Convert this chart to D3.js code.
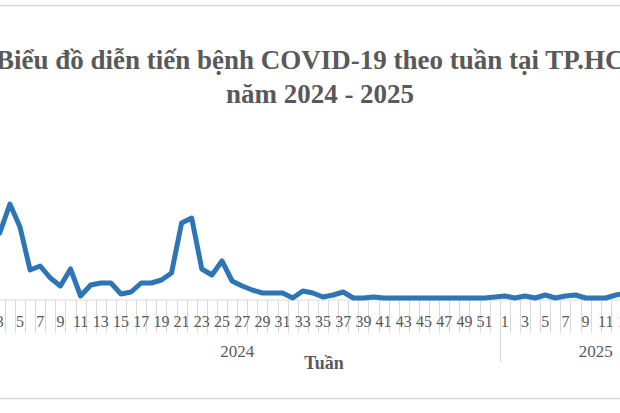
<!DOCTYPE html>
<html><head><meta charset="utf-8">
<script src="https://cdn.jsdelivr.net/npm/d3@7"></script>
<style>html,body{margin:0;padding:0;background:#fff;overflow:hidden}</style>
</head><body>
<svg id="c" width="620" height="413"></svg>
<script>
// ---- data ----
const years = ["2024", "2025"];
const weeks2024 = d3.range(1, 53);
const weeks2025 = d3.range(1, 20);
const cases2024 = [50, 60, 65, 94, 71, 28, 32, 20, 12, 29, 2, 13, 15, 15, 4, 6, 15, 15, 18, 25,
  75, 80, 29, 23, 37, 17, 12, 8, 5, 5, 5, 0, 7, 5, 1, 3, 6, 0, 0, 1,
  0, 0, 0, 0, 0, 0, 0, 0, 0, 0, 0, 1];
const cases2025 = [2, 0, 2, 0, 3, 0, 2, 3, 0, 0, 0, 3, 5, 4, 6, 8, 10, 12, 15];
const titleLines = ["Biểu đồ diễn tiến bệnh COVID-19 theo tuần tại TP.HCM", "năm 2024 - 2025"];
const xTitle = "Tuần";

// ---- build ----
const rows = [];
weeks2024.forEach((w, i) => rows.push({key: "2024-" + w, year: "2024", week: w, v: cases2024[i]}));
weeks2025.forEach((w, i) => rows.push({key: "2025-" + w, year: "2025", week: w, v: cases2025[i]}));

const svg = d3.select("#c");
const W = 620;
const grey = "#595959", light = "#d9d9d9";

const step = 10.1;
const x0 = -25.45;
const x = d3.scaleBand().domain(rows.map(d => d.key)).range([x0, x0 + step * rows.length]).padding(0);
const y = d3.scaleLinear().domain([0, 100]).range([298, 198]);
const axisY = 300;

// borders
svg.append("line").attr("x1", 0).attr("x2", W).attr("y1", 5.5).attr("y2", 5.5).attr("stroke", light).attr("stroke-width", 1.5);
svg.append("line").attr("x1", 0).attr("x2", W).attr("y1", 398.5).attr("y2", 398.5).attr("stroke", light).attr("stroke-width", 1.5);

// title
const t = svg.append("text").attr("text-anchor", "middle").attr("font-family", "Liberation Serif, Times New Roman, serif")
  .attr("font-weight", "bold").attr("font-size", 27).attr("fill", grey);
t.selectAll("tspan").data(titleLines).join("tspan").attr("x", (d, i) => i === 0 ? 323 : 320).attr("y", (d, i) => 69 + i * 34).text(d => d);

// axis line
svg.append("line").attr("x1", 0).attr("x2", W).attr("y1", axisY).attr("y2", axisY).attr("stroke", light).attr("stroke-width", 1);

// tick marks between categories
const edges = rows.map(d => x(d.key)).concat([x0 + step * rows.length]);
svg.append("g").selectAll("line").data(edges).join("line")
  .attr("x1", d => Math.round(d) + 0.5).attr("x2", d => Math.round(d) + 0.5)
  .attr("y1", axisY).attr("y2", (d, i) => (i === 0 || i === weeks2024.length || i === rows.length) ? 362 : 333)
  .attr("stroke", light).attr("stroke-width", 1);

// tick labels (odd weeks)
svg.append("g").selectAll("text").data(rows.filter(d => d.week % 2 === 1)).join("text")
  .attr("x", d => x(d.key) + x.bandwidth() / 2).attr("y", 327)
  .attr("text-anchor", "middle").attr("font-family", "Liberation Serif, Times New Roman, serif")
  .attr("font-size", 16).attr("fill", grey).text(d => d.week);

// year labels
svg.append("g").selectAll("text").data(years).join("text")
  .attr("x", yr => {
    const r = rows.filter(d => d.year === yr);
    return (x(r[0].key) + x(r[r.length - 1].key)) / 2 + x.bandwidth() / 2;
  })
  .attr("y", 357).attr("text-anchor", "middle").attr("font-family", "Liberation Serif, Times New Roman, serif")
  .attr("font-size", 17).attr("fill", grey).text(d => d);

// axis title
svg.append("text").attr("x", 324).attr("y", 369).attr("text-anchor", "middle")
  .attr("font-family", "Liberation Serif, Times New Roman, serif").attr("font-weight", "bold")
  .attr("font-size", 18).attr("fill", grey).text(xTitle);

// line
const line = d3.line().x(d => x(d.key) + x.bandwidth() / 2).y(d => y(d.v));
svg.append("path").datum(rows).attr("d", line).attr("fill", "none")
  .attr("stroke", "#2e75b6").attr("stroke-width", 5).attr("stroke-linejoin", "round").attr("stroke-linecap", "round");
</script>
</body></html>
